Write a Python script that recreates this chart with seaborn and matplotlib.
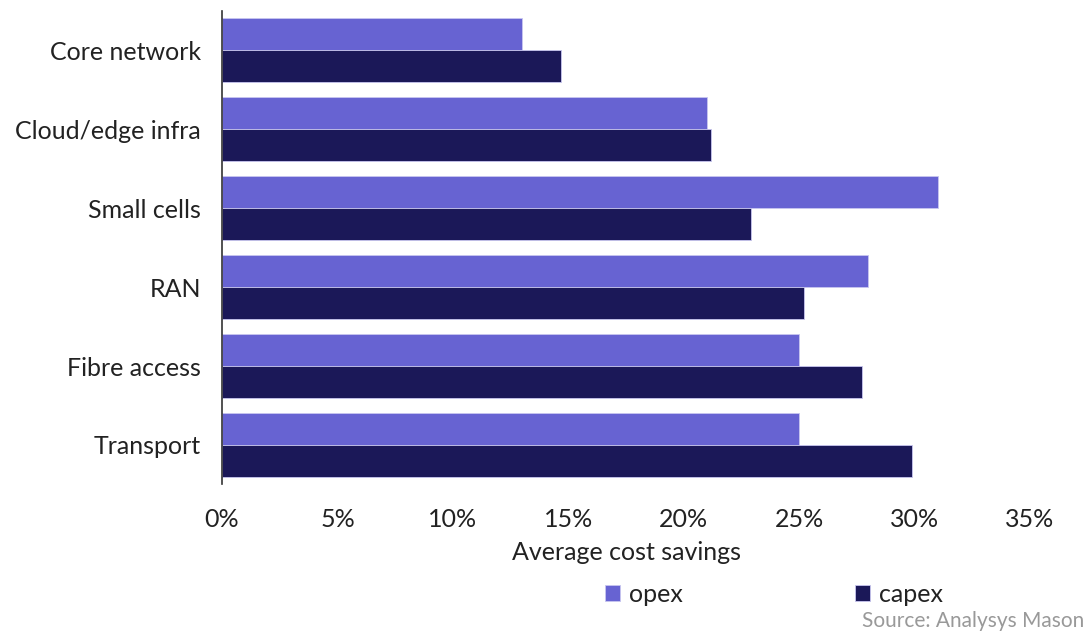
import matplotlib
matplotlib.use("Agg")
import matplotlib.pyplot as plt
import seaborn as sns
import pandas as pd
from matplotlib.patches import Patch
from matplotlib.ticker import FuncFormatter

categories = ["Core network", "Cloud/edge infra", "Small cells", "RAN", "Fibre access", "Transport"]
opex = [13.0, 21.0, 31.0, 28.0, 25.0, 25.0]
capex = [14.7, 21.2, 22.9, 25.2, 27.7, 29.9]
series = ["opex", "capex"]
colors = {"opex": "#6763D2", "capex": "#1B1858"}

df = pd.DataFrame({
    "category": categories * 2,
    "type": ["opex"] * len(categories) + ["capex"] * len(categories),
    "value": opex + capex,
})

sns.set_theme(style="white")
plt.rcParams["font.family"] = ["Lato", "DejaVu Sans"]

fig = plt.figure(figsize=(10.9, 6.33), dpi=100)
ax = fig.add_axes([0.2037, 0.2346, 0.7413, 0.7488])

sns.barplot(data=df, y="category", x="value", hue="type", hue_order=series,
            order=categories, palette=colors, orient="h", width=0.8,
            saturation=1, edgecolor="#c8c6f0", linewidth=0.6, ax=ax, legend=False)

ax.set_xlim(0, 35)
ax.set_ylim(5.5, -0.5)
ax.set_xticks(range(0, 36, 5))
ax.xaxis.set_major_formatter(FuncFormatter(lambda v, p: f"{int(v)}%"))
ax.tick_params(axis="both", length=0, labelsize=18, colors="#222222")
ax.tick_params(axis="x", pad=17)
ax.tick_params(axis="y", pad=15)
ax.set_ylabel("")
ax.set_xlabel("Average cost savings", fontsize=18, color="#222222", labelpad=7)
for s in ["top", "right", "bottom"]:
    ax.spines[s].set_visible(False)
ax.spines["left"].set_color("#333333")
ax.spines["left"].set_linewidth(1.2)

handles = [Patch(facecolor=colors[s], edgecolor="#c8c6f0", linewidth=0.6, label=s) for s in series]
fig.legend(handles=handles, loc="center", bbox_to_anchor=(0.71, 0.061), ncol=2,
           frameon=False, fontsize=18, handlelength=0.6, handleheight=0.6,
           handletextpad=0.35, columnspacing=6.9, labelcolor="#222222")

fig.text(0.995, 0.003, "Source: Analysys Mason", ha="right", va="bottom",
         fontsize=15, color="#999999")

fig.savefig("out.png", dpi=100)
